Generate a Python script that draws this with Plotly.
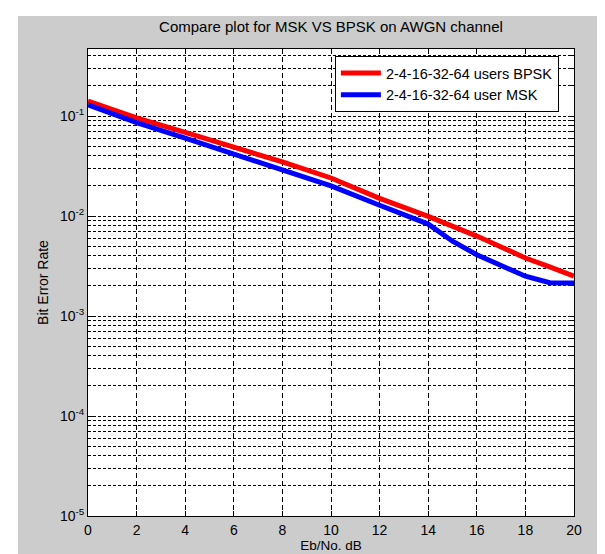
import plotly.graph_objects as go

ebno = [0, 2, 4, 6, 8, 10, 12, 14, 15, 16, 17, 18, 19, 20]
ber_bpsk = [0.141, 0.096, 0.0685, 0.049, 0.0347, 0.024, 0.0150, 0.0099, 0.0080, 0.0063, 0.0049, 0.0038, 0.0031, 0.0025]
ber_msk = [0.129, 0.086, 0.060, 0.042, 0.029, 0.020, 0.0128, 0.0083, 0.0056, 0.0041, 0.0032, 0.0025, 0.00215, 0.00214]

title_text = "Compare plot for MSK VS BPSK on AWGN channel"
label_bpsk = "2-4-16-32-64 users BPSK"
label_msk = "2-4-16-32-64 user MSK"
x_title = "Eb/No. dB"
y_title = "Bit Error Rate"
x_ticks = [0, 2, 4, 6, 8, 10, 12, 14, 16, 18, 20]
y_decades = [-5, -4, -3, -2, -1]
y_minor = [m * 10 ** d for d in y_decades for m in range(2, 10)]

FONT = "Liberation Sans, Arial, sans-serif"

fig = go.Figure()
fig.add_trace(go.Scatter(x=ebno, y=ber_bpsk, mode="lines", name=label_bpsk,
                         line=dict(color="#ff0000", width=5)))
fig.add_trace(go.Scatter(x=ebno, y=ber_msk, mode="lines", name=label_msk,
                         line=dict(color="#0000ff", width=5)))

fig.update_layout(
    width=605, height=554,
    margin=dict(l=80, r=39, t=41, b=46, autoexpand=False),
    paper_bgcolor="#cccccc",
    plot_bgcolor="white",
    font=dict(family=FONT, size=13, color="black"),
    title=dict(text=title_text, x=0.5, xref="paper", y=0.966, yref="container",
               xanchor="center", yanchor="middle", automargin=False,
               font=dict(family=FONT, size=15, color="black")),
    showlegend=True,
    legend=dict(x=0.508, y=0.985, xanchor="left", yanchor="top",
                bgcolor="white", bordercolor="black", borderwidth=1,
                font=dict(family=FONT, size=14.5, color="black"),
                tracegroupgap=0, itemwidth=40),
    shapes=[
        dict(type="rect", xref="paper", yref="paper", x0=-80/486, x1=-70/486,
             y0=-46/467, y1=508/467, fillcolor="white", line=dict(width=0), layer="above"),
        dict(type="rect", xref="paper", yref="paper", x0=-80/486, x1=525/486,
             y0=500/467, y1=508/467, fillcolor="white", line=dict(width=0), layer="above"),
        dict(type="rect", xref="paper", yref="paper", x0=517/486, x1=525/486,
             y0=-46/467, y1=508/467, fillcolor="white", line=dict(width=0), layer="above"),
    ],
)

fig.update_xaxes(
    range=[0, 20], tickvals=x_ticks, ticktext=[str(v) for v in x_ticks],
    automargin=False,
    showline=True, linecolor="black", linewidth=1, mirror="ticks",
    ticks="inside", ticklen=5, tickcolor="black", ticklabelstandoff=1,
    showgrid=True, gridcolor="black", gridwidth=1, griddash="5px,3px",
    zeroline=False,
    tickfont=dict(family=FONT, size=14, color="black"),
    title=dict(text=x_title, standoff=0, font=dict(family=FONT, size=13.5, color="black")),
)
fig.update_yaxes(
    type="log", range=[-5, -0.33], tickvals=[10 ** d for d in y_decades],
    ticktext=["10<sup>%d</sup>" % d for d in y_decades],
    automargin=False,
    showline=True, linecolor="black", linewidth=1, mirror="ticks",
    ticks="inside", ticklen=5, tickcolor="black",
    showgrid=True, gridcolor="black", gridwidth=1, griddash="3px,2px",
    zeroline=False,
    tickfont=dict(family=FONT, size=14, color="black"),
    title=dict(text=y_title, standoff=8, font=dict(family=FONT, size=14, color="black")),
    minor=dict(tickvals=y_minor, ticks="inside", ticklen=3, tickcolor="black",
               showgrid=True, gridcolor="black", gridwidth=1, griddash="3px,2px"),
)

fig.write_html("out.html")
